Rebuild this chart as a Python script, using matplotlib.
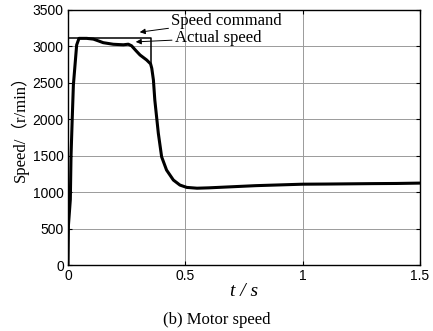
import matplotlib
matplotlib.use("Agg")
import matplotlib.pyplot as plt

# speed command (r/min) vs time (s); after the step-down it is hidden under the actual curve
cmd_t = [0.0, 0.0, 0.352, 0.352]
cmd_v = [0, 3110, 3110, 2720]

# measured motor speed
act_t = [0.0, 0.002, 0.010, 0.013, 0.018, 0.023, 0.037, 0.047, 0.08, 0.108,
         0.13, 0.15, 0.193, 0.236, 0.257, 0.271, 0.29, 0.307, 0.335, 0.352,
         0.357, 0.364, 0.37, 0.385, 0.399, 0.42, 0.449, 0.477, 0.506, 0.55,
         0.6, 0.7, 0.8, 0.9, 1.0, 1.1, 1.2, 1.3, 1.4, 1.5]
act_v = [0, 550, 900, 1500, 2000, 2470, 3020, 3110, 3110, 3100,
         3075, 3051, 3029, 3022, 3030, 3008, 2940, 2882, 2814, 2760,
         2700, 2540, 2264, 1807, 1486, 1304, 1167, 1098, 1066, 1055,
         1060, 1075, 1090, 1100, 1110, 1112, 1115, 1118, 1120, 1125]

y_ticks = [0, 500, 1000, 1500, 2000, 2500, 3000, 3500]
x_ticks = [0, 0.5, 1, 1.5]
x_labels = ["0", "0.5", "1", "1.5"]

serif = ["Liberation Serif", "Noto Sans CJK SC"]

fig = plt.figure(figsize=(4.33, 3.31), dpi=100)
ax = fig.add_axes([0.157, 0.199, 0.813, 0.771])

ax.plot(cmd_t, cmd_v, color="black", lw=1.1, zorder=3)
ax.plot(act_t, act_v, color="black", lw=2.2, zorder=4, solid_joinstyle="round")

ax.set_xlim(0, 1.5)
ax.set_ylim(0, 3500)
ax.set_xticks(x_ticks)
ax.set_xticklabels(x_labels)
ax.set_yticks(y_ticks)
ax.grid(True, color="#9a9a9a", lw=0.7)
ax.tick_params(direction="in", length=3, right=True, top=True, labelsize=10, pad=3)
for lab in ax.get_xticklabels() + ax.get_yticklabels():
    lab.set_family("Liberation Sans")
for sp in ax.spines.values():
    sp.set_linewidth(1.0)

ax.set_ylabel("Speed/（r/min）", family=serif, fontsize=12)
ax.yaxis.set_label_coords(-0.11, 0.55)
ax.set_xlabel("t / s", family="Liberation Serif", style="italic", fontsize=14, labelpad=0)
fig.text(0.5, 0.02, "(b) Motor speed", family="Liberation Serif", fontsize=12, ha="center")

ax.annotate("Speed command", xy=(0.294, 3190), xytext=(0.44, 3355),
            family="Liberation Serif", fontsize=12, va="center", ha="left",
            arrowprops=dict(arrowstyle="-|>", color="black", lw=0.7, mutation_scale=8,
                            shrinkA=0))
ax.annotate("Actual speed", xy=(0.277, 3060), xytext=(0.455, 3115),
            family="Liberation Serif", fontsize=12, va="center", ha="left",
            arrowprops=dict(arrowstyle="-|>", color="black", lw=0.7, mutation_scale=8,
                            shrinkA=0))

fig.savefig("out.png", dpi=100)
